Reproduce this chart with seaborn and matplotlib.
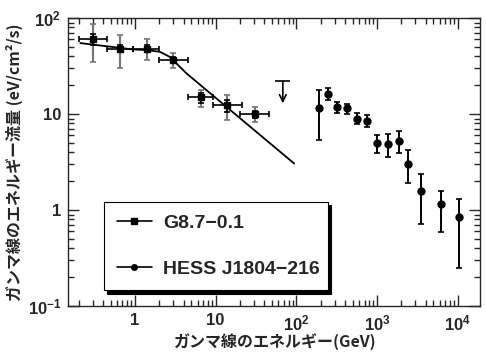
import numpy as np
import matplotlib
matplotlib.use("Agg")
import matplotlib.pyplot as plt
from matplotlib.lines import Line2D
from matplotlib.ticker import FixedLocator, FixedFormatter, LogLocator, NullFormatter
import seaborn as sns

# G8.7-0.1 (squares)
g_e = [0.30, 0.65, 1.4, 3.0, 6.6, 14.0, 30.7]
g_f = [60, 48, 48, 36.5, 15, 12.4, 10]
g_e_lo = [0.20, 0.45, 0.95, 2.0, 4.5, 9.3, 20]
g_e_hi = [0.45, 0.95, 2.0, 4.5, 9.3, 21, 46]
g_sys_lo = [35, 30, 37, 30, 11.8, 8.7, 8.3]
g_sys_hi = [87, 67, 61, 43, 18, 16, 11.8]
g_stat_lo = [52, 44, 44, 34, 13.2, 10.5, 9.2]
g_stat_hi = [68, 52, 52, 39, 16.5, 14.2, 10.8]

# upper limit
ul_e = [68]
ul_f = [22]
ul_tip = [13]

# model curve
fit_e = [0.21, 0.95, 1.4, 2.04, 2.7, 4.37, 94]
fit_f = [55, 47.2, 46.5, 44.6, 39.5, 26.5, 3.06]

# HESS J1804-216 (circles)
h_e = [189, 244, 321, 420, 563, 750, 1000, 1380, 1860, 2440, 3550, 6280, 10400]
h_f = [11.6, 16.1, 11.8, 11.5, 9.0, 8.5, 4.96, 4.83, 5.25, 3.06, 1.58, 1.15, 0.85]
h_lo = [5.4, 14.2, 10.3, 10.0, 7.9, 7.4, 3.9, 3.55, 3.9, 1.9, 0.71, 0.59, 0.25]
h_hi = [18, 18.6, 13.4, 12.9, 10.2, 9.8, 6.0, 6.2, 6.65, 4.2, 2.4, 1.6, 1.32]

sns.set_style("ticks")
plt.rcParams["font.family"] = ["Liberation Sans", "DejaVu Sans"]
plt.rcParams["mathtext.fontset"] = "custom"
plt.rcParams["mathtext.bf"] = "Liberation Sans:bold"
plt.rcParams["mathtext.rm"] = "Liberation Sans:bold"

fig = plt.figure(figsize=(4.86, 3.56), dpi=100)
ax = fig.add_axes([0.14, 0.14, 0.848, 0.809])

def asym(v, lo, hi):
    v = np.array(v); return [v - np.array(lo), np.array(hi) - v]

# model line
sns.lineplot(x=fit_e, y=fit_f, ax=ax, color="black", lw=1.3, sort=False, estimator=None)

# G8.7 points: gray systematic + black stat + horizontal bins
ax.errorbar(g_e, g_f, yerr=asym(g_f, g_sys_lo, g_sys_hi), fmt="none",
            ecolor="#777777", elinewidth=1.6, capsize=2.5, capthick=1.2)
ax.errorbar(g_e, g_f, yerr=asym(g_f, g_stat_lo, g_stat_hi), xerr=asym(g_e, g_e_lo, g_e_hi),
            fmt="s", color="black", ms=5, elinewidth=1.2, capsize=2, capthick=1.2)

# upper limit
ax.errorbar(ul_e, ul_f, xerr=asym(ul_e, [55], [84]), fmt="none", ecolor="black", elinewidth=1.2)
ax.annotate("", xy=(ul_e[0], ul_tip[0]), xytext=(ul_e[0], ul_f[0]),
            arrowprops=dict(arrowstyle="->", color="black", lw=1.2, shrinkA=0, shrinkB=0,
                            mutation_scale=12))

# HESS points
ax.errorbar(h_e, h_f, yerr=asym(h_f, h_lo, h_hi), fmt="o", color="black", ms=5,
            elinewidth=1.4, capsize=2.5, capthick=1.2)

ax.set_xscale("log")
ax.set_yscale("log")
ax.set_xlim(0.148, 1.9e4)
ax.set_ylim(0.1, 100)

ax.xaxis.set_major_locator(FixedLocator([1, 10, 100, 1000, 10000]))
ax.xaxis.set_major_formatter(FixedFormatter(["1", "10", r"$\mathbf{10^{2}}$",
                                             r"$\mathbf{10^{3}}$", r"$\mathbf{10^{4}}$"]))
ax.yaxis.set_major_locator(FixedLocator([0.1, 1, 10, 100]))
ax.yaxis.set_major_formatter(FixedFormatter([r"$\mathbf{10^{-1}}$", "1", "10",
                                             r"$\mathbf{10^{2}}$"]))
for a in (ax.xaxis, ax.yaxis):
    a.set_minor_locator(LogLocator(base=10, subs=np.arange(2, 10), numticks=20))
    a.set_minor_formatter(NullFormatter())

ax.tick_params(which="both", direction="in", top=True, right=True, width=1)
ax.tick_params(which="major", length=8, labelsize=12, pad=5)
ax.tick_params(which="minor", length=4)
for lab in ax.get_xticklabels() + ax.get_yticklabels():
    lab.set_fontweight("bold")
for s in ax.spines.values():
    s.set_linewidth(1)

jp = ["Noto Sans CJK JP", "DejaVu Sans"]
ax.set_xlabel("ガンマ線のエネルギー(GeV)", family=jp, fontsize=11.5, fontweight="bold", labelpad=1)
ax.set_ylabel("ガンマ線のエネルギー流量 (eV/cm²/s)", family=jp, fontsize=11.5,
              fontweight="bold", labelpad=3)

handles = [Line2D([], [], color="black", marker="s", ms=4, lw=1.2),
           Line2D([], [], color="black", marker="o", ms=4, lw=1.2)]
leg = ax.legend(handles, ["G8.7\u22120.1", "HESS J1804\u2212216"], loc="lower left",
                bbox_to_anchor=(0.087, 0.055, 0.543, 0.30), mode="expand", borderaxespad=0,
                frameon=True, fancybox=False, shadow={"color": "black", "alpha": 1, "ox": 2.5, "oy": -2.5},
                edgecolor="black", framealpha=1, borderpad=0.65, labelspacing=1.45,
                handlelength=1.8, handletextpad=0.6,
                prop={"family": "Liberation Sans", "weight": "bold", "size": 14})
leg.get_frame().set_linewidth(0.8)

fig.savefig("out.png", dpi=100)
